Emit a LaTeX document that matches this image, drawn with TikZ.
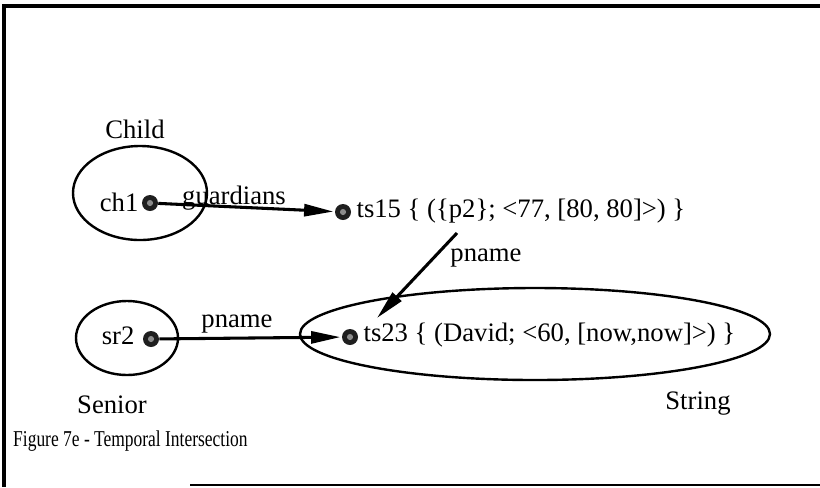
\documentclass[tikz,border=0pt]{standalone}
\usepackage{fontspec}
\setmainfont{Liberation Serif}
\usetikzlibrary{arrows.meta}
\begin{document}
\begin{tikzpicture}[x=0.75pt,y=-0.75pt,
  lbl/.style={font=\fontsize{20}{22}\selectfont, inner sep=1pt},
  caplbl/.style={font=\fontsize{17}{19}\selectfont, inner sep=1pt, xscale=0.77},
  dot/.style={circle, fill=black!88, minimum size=12pt, inner sep=0pt, path picture={\fill[black!45] (path picture bounding box.center) circle (2.3pt);}},
  cls/.style={draw, line width=1.8pt},
  link/.style={line width=2.3pt, -{Triangle[length=22pt,width=9pt]}}]
\useasboundingbox (0,0) rectangle (820,487);
\draw[line width=2.4pt] (820,6) -- (4,6) -- (4,487);
\draw[line width=1.6pt] (190,485) -- (820,485);
% class ellipses
\draw[cls] (140,193) ellipse [x radius=67, y radius=47];
\draw[cls] (127,338) ellipse [x radius=51, y radius=37];
\draw[cls] (535,334) ellipse [x radius=235, y radius=46];
% class labels
\node[lbl] (child) at (135,129) {Child};
\node[lbl] (senior) at (112,405) {Senior};
\node[lbl] (string) at (698,404) {String};
% objects
\node[dot] (ch1) at (150,203) {};
\node[lbl, anchor=east] (ch1t) at (140,202) {ch1};
\node[dot] (sr2) at (151,339) {};
\node[lbl, anchor=east] (sr2t) at (136,336) {sr2};
\node[dot] (ts15) at (343,212) {};
\node[lbl, anchor=west] (ts15t) at (355,211) {ts15 \{ (\{p2\}; <77, [80, 80]>) \}};
\node[dot] (ts23) at (350,337) {};
\node[lbl, anchor=west] (ts23t) at (362,335) {ts23 \{ (David; <60, [now,now]>) \}};
% connectors
\coordinate (pstart) at (457,233);
\coordinate (pend) at (377,318);
\draw[link, shorten >=1pt] (ch1) -- (ts15);
\draw[link, shorten >=1pt] (sr2) -- (ts23);
\draw[link] (pstart) -- (pend);
% connector labels
\node[lbl] (g) at (234,198) {guardians};
\node[lbl] (p1) at (237,324) {pname};
\node[lbl] (p2) at (486,258) {pname};
% caption
\node[caplbl, anchor=west] (cap) at (12,441) {Figure 7e - Temporal Intersection};
\end{tikzpicture}
\end{document}
